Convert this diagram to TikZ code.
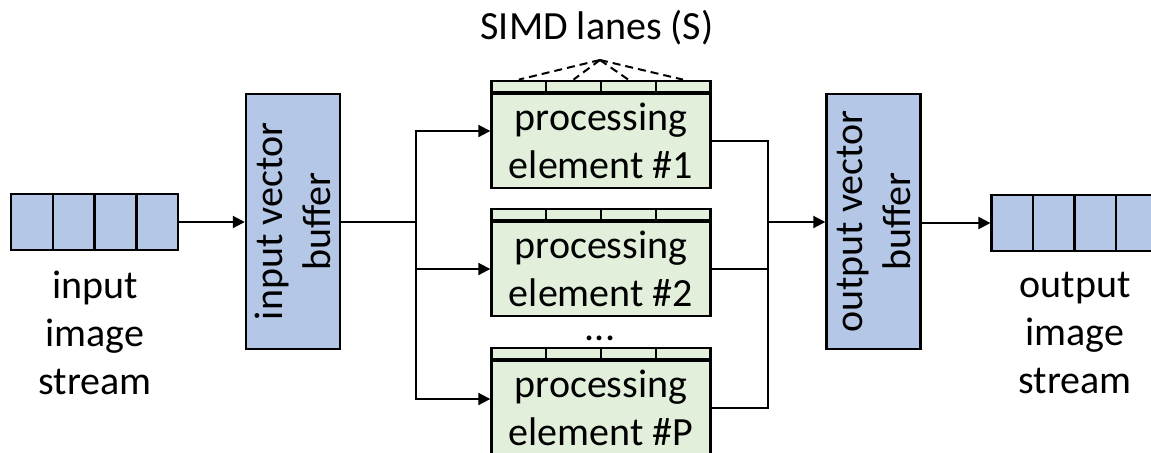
\documentclass[tikz,border=0pt]{standalone}
\usepackage{fontspec}
\setmainfont{Carlito}
\usetikzlibrary{arrows.meta}
\definecolor{bufblue}{HTML}{B4C7E7}
\definecolor{pegreen}{HTML}{E2EFDA}

\begin{document}
\begin{tikzpicture}[x=0.5pt, y=-0.5pt,
    txt/.style={font=\fontsize{20}{24}\selectfont, align=center, inner sep=0pt},
    cell/.style={draw, line width=1.2pt, fill=bufblue, minimum width=20.875pt, minimum height=28pt, inner sep=0pt},
    buf/.style={draw, line width=1.2pt, fill=bufblue, minimum width=47pt, minimum height=127.5pt, inner sep=0pt},
    pe/.style={draw, line width=1.2pt, fill=pegreen, minimum width=109.5pt, minimum height=47pt, txt},
    lane/.style={draw, line width=1.1pt, fill=pegreen, minimum width=27.375pt, minimum height=5.5pt, inner sep=0pt, anchor=south west},
    wire/.style={line width=1pt},
    arr/.style={wire, -{Triangle[length=6pt,width=6pt]}}]
\useasboundingbox (0,0) rectangle (1151,452);

% input / output streams
\foreach \i in {0,...,3}
    \node[cell] (in\i) at (32+41.75*\i,222) {};
\foreach \i in {0,...,4}
    \node[cell] (out\i) at (1012.5+41.5*\i,223) {};
\node[txt] (intext) at (95,333) {input\\image\\stream};
\node[txt] (outtext) at (1075,333) {output\\image\\stream};

% vector buffers
\node[buf] (inbuf) at (293,221.5) {};
\node[txt, rotate=90] (inbuftext) at (inbuf.center) {input vector\\buffer};
\node[buf] (outbuf) at (873.5,221.5) {};
\node[txt, rotate=90] (outbuftext) at (outbuf.center) {output vector\\buffer};

% processing elements with their SIMD lanes
\node[pe] (pe1) at (601,141) {processing\\element \#1};
\node[pe] (pe2) at (601,269) {processing\\element \#2};
\node[pe] (pe3) at (601,408) {processing\\element \#P};
\foreach \p in {1,2,3}
    \foreach \j in {1,...,4}
        \node[lane] (lane\p\j) at ([xshift={(\j-1)*27.375pt}]pe\p.north west) {};
\node[txt] (dots) at (600,338) {...};

\node[txt] (simd) at (597,28) {SIMD lanes (S)};
\coordinate (apex) at (600,60);
\foreach \j in {1,...,4}
    \draw[wire, dash pattern=on 4pt off 2.5pt] (apex) -- (lane1\j.north);

% connectors
\coordinate (fork) at (416,222);
\coordinate (join) at (768,222);
\draw[arr] (in3.east) -- (inbuf.west |- in3.east);
\draw[wire] (inbuf.east |- fork) -- (fork);
\draw[arr] (fork) |- ([yshift=5pt]pe1.west);
\draw[arr] (fork) |- (pe2.west);
\draw[arr] (fork) |- ([yshift=4.5pt]pe3.west);
\draw[wire] (pe1.east) -| (join);
\draw[wire] (pe2.east) -| (join);
\draw[wire] (pe3.east) -| (join);
\draw[arr] (join) -- (outbuf.west |- join);
\draw[arr] (outbuf.east |- out0.west) -- (out0.west);
\end{tikzpicture}
\end{document}
